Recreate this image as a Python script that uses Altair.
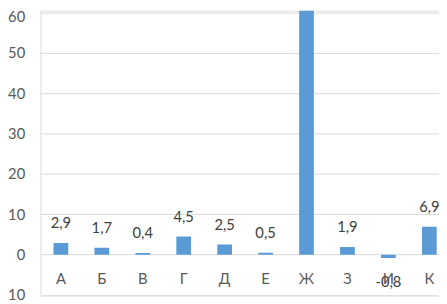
import altair as alt
import pandas as pd

categories = ["А", "Б", "В", "Г", "Д", "Е", "Ж", "З", "И", "К"]
values = [2.9, 1.7, 0.4, 4.5, 2.5, 0.5, 75.0, 1.9, -0.8, 6.9]
y_ticks = [-10, 0, 10, 20, 30, 40, 50, 60]

df = pd.DataFrame({"cat": categories, "value": values})

FONT = "Lato"
FS = 15
x_scale = alt.Scale(domain=categories, range=[0, 417], paddingInner=0, paddingOuter=0)
y_scale = alt.Scale(domain=[-10.1, 60.46], nice=False, zero=False)

base = alt.Chart(df)

bars = base.mark_bar(color="#5B9BD5", size=15, clip=True).encode(
    x=alt.X("cat:N", scale=x_scale, axis=None, sort=categories),
    y=alt.Y("value:Q", scale=y_scale,
            axis=alt.Axis(values=y_ticks, title=None, domain=False, ticks=False,
                          labelPadding=16, labelFont=FONT, labelFontSize=FS,
                          labelColor="#595959", gridColor="#D9D9D9", gridWidth=1,
                          labelOffset={"condition": {"test": "datum.value == 60", "value": 4}, "value": 0},
                          labelExpr="'' + datum.value")),
)

label_calc = "(datum.value < 0 ? '-' : '') + replace(format(abs(datum.value), '.1f'), '.', ',')"

pos_labels = base.transform_filter("datum.value >= 0 && datum.value <= 60").transform_calculate(
    lbl=label_calc
).mark_text(font=FONT, fontSize=FS, color="#404040", baseline="middle", dy=-20).encode(
    x=alt.X("cat:N", scale=x_scale, sort=categories),
    y=alt.Y("value:Q", scale=y_scale),
    text="lbl:N",
)

neg_labels = base.transform_filter("datum.value < 0").transform_calculate(
    lbl=label_calc
).mark_text(font=FONT, fontSize=FS, color="#404040", baseline="middle", dy=25).encode(
    x=alt.X("cat:N", scale=x_scale, sort=categories),
    y=alt.Y("value:Q", scale=y_scale),
    text="lbl:N",
)

cat_labels = base.mark_text(font=FONT, fontSize=FS, color="#595959", baseline="middle", dy=25).encode(
    x=alt.X("cat:N", scale=x_scale, sort=categories),
    y=alt.datum(0, scale=y_scale),
    text="cat:N",
)

chart = alt.layer(bars, pos_labels, neg_labels, cat_labels).properties(
    width=406, height=290,
    autosize=alt.AutoSizeParams(type="none"),
    padding={"left": 33, "top": 0, "right": 0, "bottom": 6},
).configure_view(stroke=None).configure(background="white")

chart.save("out.html", embed_options={"renderer": "svg", "actions": False})
